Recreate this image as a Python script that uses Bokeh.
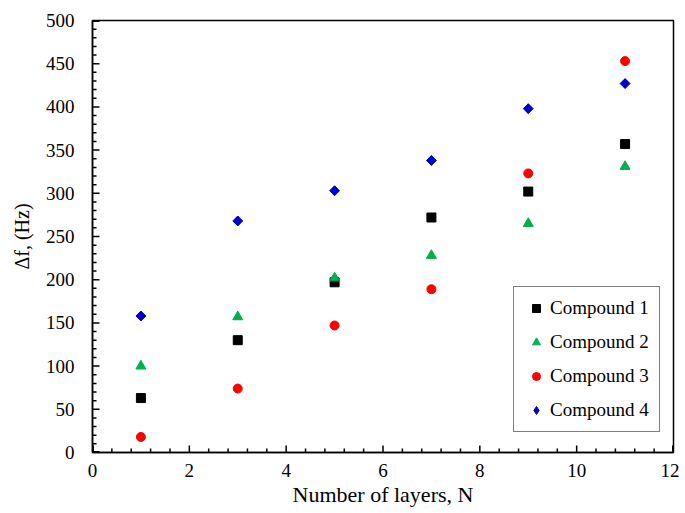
import math
import numpy as np
from bokeh.plotting import figure
from bokeh.models import Range1d, FixedTicker, Legend, LegendItem
from bokeh.embed import file_html
from bokeh.resources import INLINE

layers = [1, 3, 5, 7, 9, 11]
compound1 = [63, 130, 197, 272, 302, 357]
compound2 = [100, 157, 202, 228, 265, 331]
compound3 = [18, 74, 147, 189, 323, 453]
compound4 = [158, 268, 303, 338, 398, 427]
series_names = ["Compound 1", "Compound 2", "Compound 3", "Compound 4"]

x_major = [0, 2, 4, 6, 8, 10, 12]
y_major = [0, 50, 100, 150, 200, 250, 300, 350, 400, 450, 500]
x_minor_step = 0.4
y_minor_step = 10

FONT = "Liberation Serif"
FW, FH = 581, 432
X0, X1, Y0, Y1 = 0, 12, 0, 500

p = figure(frame_width=FW, frame_height=FH, output_backend="svg", toolbar_location=None,
           x_range=Range1d(X0, X1), y_range=Range1d(Y0, Y1),
           min_border_left=92, min_border_right=6, min_border_top=20, min_border_bottom=56)
p.grid.visible = False
p.outline_line_color = "black"
p.outline_line_width = 1.5

p.xaxis.ticker = FixedTicker(ticks=x_major)
p.yaxis.ticker = FixedTicker(ticks=y_major)
for ax in (p.xaxis[0], p.yaxis[0]):
    ax.axis_line_color = "black"
    ax.axis_line_width = 1.5
    ax.major_tick_in = 0
    ax.major_tick_out = 0
    ax.minor_tick_in = 0
    ax.minor_tick_out = 0
    ax.major_label_text_font = FONT
    ax.major_label_text_font_size = "19px"
    ax.major_label_text_color = "black"
    ax.axis_label_text_font = FONT
    ax.axis_label_text_font_style = "normal"
    ax.axis_label_text_color = "black"

p.xaxis.axis_label = "Number of layers, N"
p.xaxis.axis_label_text_font_size = "22px"
p.xaxis.major_label_standoff = 11
p.xaxis.axis_label_standoff = 2
p.yaxis.axis_label = "\u0394f, (Hz)"
p.yaxis.axis_label_text_font_size = "20px"
p.yaxis.major_label_standoff = 18
p.yaxis.axis_label_standoff = 10

# inward tick marks as segments in data units, starting a hair inside the frame
px_x = (X1 - X0) / FW
px_y = (Y1 - Y0) / FH
x_minor = [round(float(t), 3) for t in np.arange(0, 12 + 1e-9, x_minor_step) if abs(t / 2 - round(t / 2)) > 1e-6]
y_minor = [int(t) for t in range(0, 501, y_minor_step) if t % 50 != 0]
xmaj_in = [min(max(t, X0 + 0.75 * px_x), X1 - 0.75 * px_x) for t in x_major]
ymaj_in = [min(max(t, Y0 + 0.75 * px_y), Y1 - 0.75 * px_y) for t in y_major]
tick_x0 = xmaj_in + x_minor
tick_len_x = [7 * px_y] * len(xmaj_in) + [4 * px_y] * len(x_minor)
tick_y0 = ymaj_in + y_minor
tick_len_y = [7 * px_x] * len(ymaj_in) + [4 * px_x] * len(y_minor)
p.segment(x0=tick_x0, y0=[Y0 + 0.1 * px_y] * len(tick_x0), x1=tick_x0,
          y1=[Y0 + l for l in tick_len_x], line_color="black", line_width=1.5)
p.segment(x0=[X0 + 0.1 * px_x] * len(tick_y0), y0=tick_y0,
          x1=[X0 + l for l in tick_len_y], y1=tick_y0, line_color="black", line_width=1.5)

r1 = p.scatter(layers, compound1, marker="square", size=9, color="black")
r2 = p.scatter(layers, compound2, marker="triangle", size=10, color="#00B050")
r3 = p.scatter(layers, compound3, marker="circle", size=9, color="#FF0000")
r4 = p.scatter(layers, compound4, marker="square", size=7, angle=math.pi / 4, color="#0000CC")
r4d = p.scatter(layers, compound4, marker="diamond", size=9, color="#0000CC")

legend = Legend(items=[LegendItem(label=n, renderers=[r]) for n, r in
                       zip(series_names, [r1, r2, r3, r4d])],
                location=(421, 20))
legend.label_text_font = FONT
legend.label_text_font_size = "19px"
legend.label_text_color = "black"
legend.border_line_color = "black"
legend.border_line_width = 1.2
legend.background_fill_color = "white"
legend.background_fill_alpha = 1
legend.padding = 10
legend.spacing = 12
legend.label_height = 20
legend.glyph_height = 20
legend.glyph_width = 24
legend.label_standoff = 2
legend.margin = 0
p.add_layout(legend, "center")

open("out.html", "w").write(file_html(p, INLINE))
